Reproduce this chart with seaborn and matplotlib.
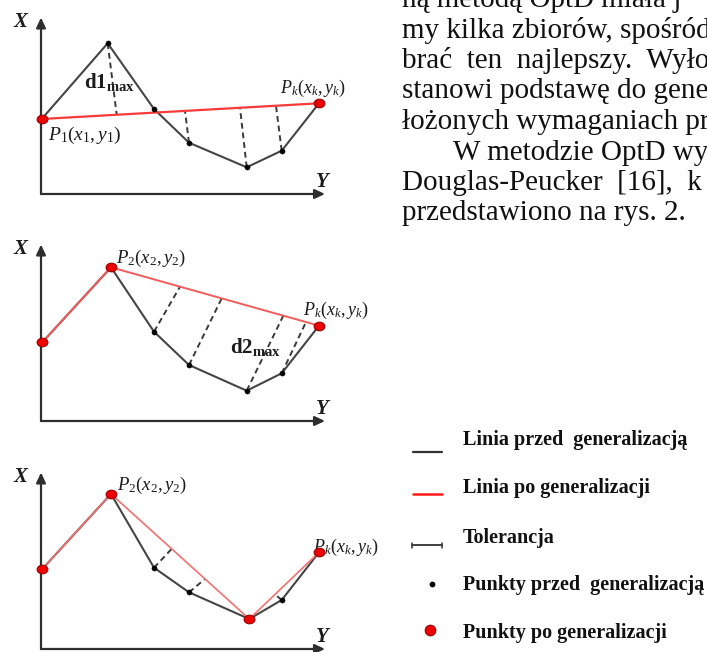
import numpy as np
import matplotlib
matplotlib.use("Agg")
import matplotlib.pyplot as plt
import seaborn as sns
from matplotlib.path import Path

# local coordinates of every panel: h = along the Y axis, v = along the X axis
# panel 1 - first step (P1 .. Pk)
h1 = [0.7, 66.7, 113, 148, 205.7, 240.7, 278]
v1 = [75, 150.7, 85, 51.3, 26.7, 43.3, 90.7]
red1 = [0, 6]
tol_pts1 = [1, 3, 4, 5]
tol_h1 = [75.7, 144, 199, 235]

# panel 2 - second step (P2 .. Pk)
h2 = [1.3, 70, 113, 148, 205.7, 240.7, 278]
v2 = [78.7, 153.7, 89.3, 56, 30.3, 47.7, 95.3]
red2 = [0, 1, 6]
tol_pts2 = [2, 3, 4, 5]
tol_h2 = [139, 180.7, 242.3, 265]

# panel 3 - result
h3 = [1.3, 70, 113, 148, 208.3, 240.7, 278]
v3 = [80, 155, 81.3, 56.7, 30, 49, 96.7]
red3 = [0, 1, 4, 6]
tol_pts3 = [2, 3, 5]
tol_h3 = [130.7, 164, 234]

legend_labels = ["Linia przed  generalizacją", "Linia po generalizacji", "Tolerancja",
                 "Punkty przed  generalizacją", "Punkty po generalizacji"]

# visible part of the page text next to the figure
body_lines = ["ną metodą OptD miała j",
              "my kilka zbiorów, spośród",
              "brać  ten  najlepszy.  Wyło",
              "stanowi podstawę do gene",
              "łożonych wymaganiach pr",
              "W metodzie OptD wy",
              "Douglas-Peucker  [16],  k",
              "przedstawiono na rys. 2."]

sns.set_style("white")
plt.rcParams["font.family"] = ["Liberation Serif", "DejaVu Serif"]
plt.rcParams["mathtext.fontset"] = "custom"
plt.rcParams["mathtext.rm"] = "Liberation Serif"
plt.rcParams["mathtext.it"] = "Liberation Serif:italic"
plt.rcParams["mathtext.bf"] = "Liberation Serif:bold"

W, H = 707, 652
fig = plt.figure(figsize=(W / 100, H / 100), dpi=100)
fig.patch.set_facecolor("white")

GREY = "#454545"
AXC = "#2e2e2e"
TXT = "#1c1c1c"
ell = Path(Path.unit_circle().vertices * [1, 0.8], Path.unit_circle().codes)


def draw_panel(y0, h, v, red, tol_pts, tol_h, red_color, red_lw):
    ax = fig.add_axes([0, 0, 1, 1])
    ax.set_xlim(-41, W - 41)
    ax.set_ylim(y0 - H, y0)
    ax.set_axis_off()
    ax.patch.set_alpha(0)

    # axes arrows
    arrow = dict(arrowstyle="-|>,head_length=0.6,head_width=0.28", color=AXC,
                 lw=1.6, shrinkA=0, shrinkB=0, mutation_scale=10)
    ax.annotate("", xy=(0, 176.5), xytext=(0, 0), arrowprops=arrow)
    ax.annotate("", xy=(284, 0), xytext=(0, 0), arrowprops=arrow)

    # original line
    sns.lineplot(x=h, y=v, sort=False, estimator=None, color=GREY, lw=1.5, ax=ax, zorder=2)

    # generalised line
    rh = [h[i] for i in red]
    rv = [v[i] for i in red]
    sns.lineplot(x=rh, y=rv, sort=False, estimator=None, color=red_color, lw=red_lw,
                 ax=ax, zorder=3)

    # tolerance distances
    for i, fh in zip(tol_pts, tol_h):
        fv = np.interp(fh, rh, rv)
        ax.plot([h[i], fh], [v[i], fv], color="#3a3a3a", lw=1.4, ls=(0, (3, 2)), zorder=2)

    # points
    black = [i for i in range(len(h)) if i not in red]
    sns.scatterplot(x=[h[i] for i in black], y=[v[i] for i in black], s=14,
                    color="black", edgecolor="black", linewidth=0.3, ax=ax, zorder=4)
    sns.scatterplot(x=rh, y=rv, s=60, marker=ell, color="#ee0000",
                    edgecolor="#9a0000", linewidth=0.8, ax=ax, zorder=5)

    ax.text(-20.3, 172, "X", fontsize=15, fontweight="bold", fontstyle="italic",
            ha="center", va="center", color=TXT)
    ax.text(281, 12, "Y", fontsize=15, fontweight="bold", fontstyle="italic",
            ha="center", va="center", color=TXT)
    return ax


ax1 = draw_panel(194, h1, v1, red1, tol_pts1, tol_h1, "#f73b3b", 1.6)
ax1.text(7, 59, r"$\mathit{P_1(x_1,y_1)}$", fontsize=14, ha="left", va="center", color=TXT)
ax1.text(239, 106, r"$\mathit{P_k(x_k,y_k)}$", fontsize=13, ha="left", va="center", color=TXT)
ax1.text(68, 112, r"$\mathbf{d1_{max}}$", fontsize=15, ha="center", va="center", color=TXT)

ax2 = draw_panel(421, h2, v2, red2, tol_pts2, tol_h2, "#f45c5c", 1.4)
ax2.text(75, 163, r"$\mathit{P_2(x_2,y_2)}$", fontsize=13.5, ha="left", va="center", color=TXT)
ax2.text(262, 111, r"$\mathit{P_k(x_k,y_k)}$", fontsize=13, ha="left", va="center", color=TXT)
ax2.text(189, 74, r"$\mathbf{d2_{max}}$", fontsize=15, ha="left", va="center", color=TXT)

ax3 = draw_panel(649, h3, v3, red3, tol_pts3, tol_h3, "#f57070", 1.2)
ax3.text(76, 164, r"$\mathit{P_2(x_2,y_2)}$", fontsize=13.5, ha="left", va="center", color=TXT)
ax3.text(272, 102, r"$\mathit{P_k(x_k,y_k)}$", fontsize=13, ha="left", va="center", color=TXT)

# overlay in pixel units for legend and body text
ov = fig.add_axes([0, 0, 1, 1])
ov.set_xlim(0, W)
ov.set_ylim(H, 0)
ov.set_axis_off()
ov.patch.set_alpha(0)

for i, line in enumerate(body_lines):
    x = 453 if line.startswith("W metodzie") else 402
    ov.text(x, 7 + 30.5 * i, line, fontsize=21, ha="left", va="baseline", color="#111111")

leg_y = [440, 488, 538, 585, 633]
ov.plot([413, 442], [451.7, 451.7], color="#333333", lw=1.6)
ov.plot([413, 442], [494, 494], color="#ff1a1a", lw=1.8)
ov.plot([412, 442], [545, 545], color="#333333", lw=1.3)
ov.plot([412, 412], [542.5, 547.5], color="#333333", lw=1.1)
ov.plot([442, 442], [542.5, 547.5], color="#333333", lw=1.1)
ov.scatter([431.7], [584.3], s=10, color="black")
ov.scatter([430], [630], s=58, color="#ee0000", edgecolor="#9a0000", linewidth=0.8)
for y, lab in zip(leg_y, legend_labels):
    ov.text(463, y, lab, fontsize=14.5, fontweight="bold", ha="left", va="center", color="#111111")

fig.savefig("out.png", dpi=100, facecolor="white")
